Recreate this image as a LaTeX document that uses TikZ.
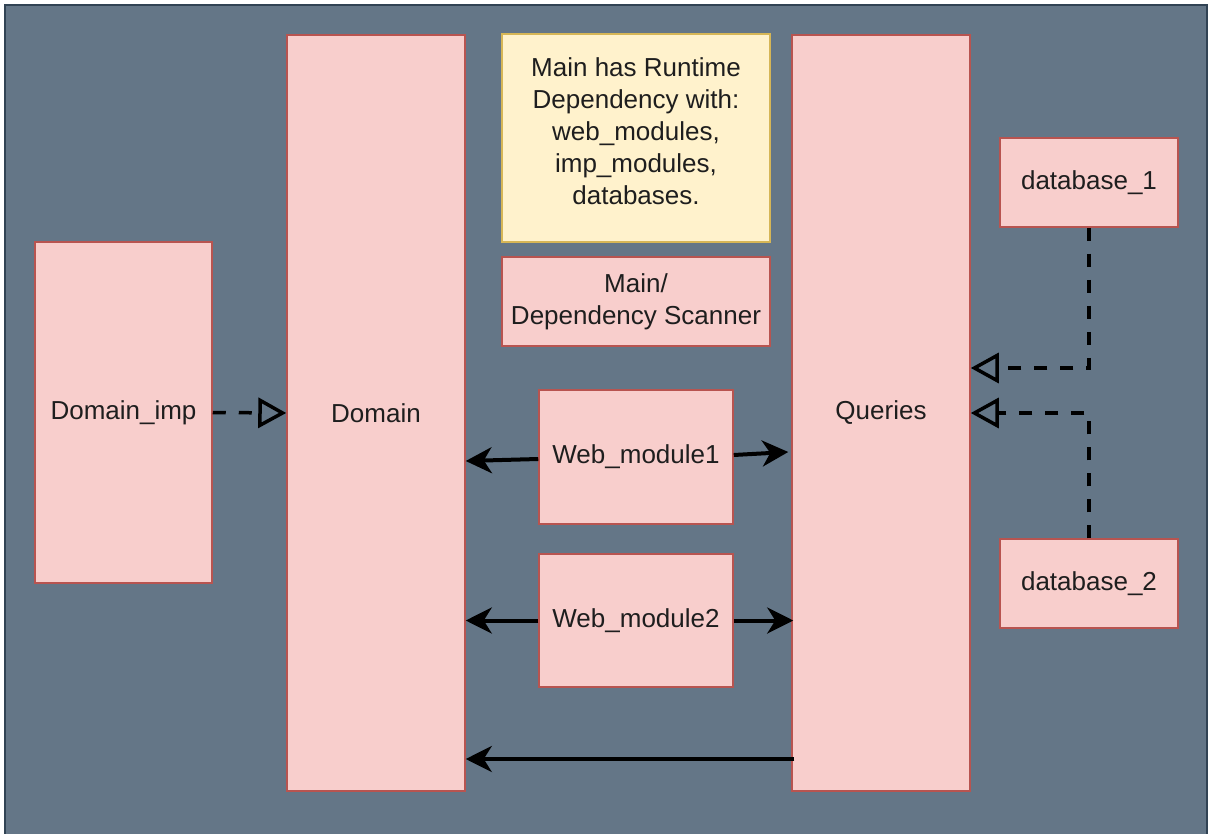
\documentclass[tikz,border=0pt]{standalone}
\usepackage{fontspec}
\setmainfont{Liberation Sans}
\usetikzlibrary{arrows.meta}
\definecolor{bgfill}{HTML}{647687}
\definecolor{bgline}{HTML}{314354}
\definecolor{boxfill}{HTML}{F8CECC}
\definecolor{boxline}{HTML}{B85450}
\definecolor{notefill}{HTML}{FFF2CC}
\definecolor{noteline}{HTML}{D6B656}
\definecolor{ink}{HTML}{1E1E1E}
\tikzset{
  block/.style={draw=boxline, fill=boxfill, line width=1.5pt, text=ink,
    align=center, inner sep=0pt, font=\fontsize{26}{32}\selectfont},
  note/.style={block, draw=noteline, fill=notefill},
  uses/.style={line width=4pt, draw=black,
    -{Stealth[length=26pt, width=26pt, inset=8pt]}},
  impl/.style={line width=3.5pt, draw=black, dash pattern=on 13pt off 13pt,
    -{Triangle[open, length=28pt, width=30pt]}},
}
\begin{document}
\begin{tikzpicture}[x=1pt, y=-1pt]
  \useasboundingbox (0,0) rectangle (1209,834);
  \clip (0,0) rectangle (1209,834);
  % backdrop panel
  \fill[bgfill, draw=bgline, line width=2pt] (5,5) rectangle (1207,860);

  % boxes
  \node[block, minimum width=177pt, minimum height=341pt] (di) at (123.5,412.5) {Domain\_imp};
  \node[block, minimum width=178pt, minimum height=756pt] (dom) at (376,413) {Domain};
  \node[block, minimum width=178pt, minimum height=756pt] (q) at (881,413) {Queries};
  \node[note, minimum width=268pt, minimum height=208pt, text depth=14pt] (note) at (636,138)
    {Main has Runtime\\Dependency with:\\web\_modules,\\imp\_modules,\\databases.};
  \node[block, minimum width=268pt, minimum height=89pt] (main) at (636,301.5)
    {Main/\\Dependency Scanner};
  \node[block, minimum width=194pt, minimum height=134pt] (wm1) at (636,457) {Web\_module1};
  \node[block, minimum width=194pt, minimum height=133pt] (wm2) at (636,620.5) {Web\_module2};
  \node[block, minimum width=178pt, minimum height=89pt] (db1) at (1089,182.5) {database\_1};
  \node[block, minimum width=178pt, minimum height=89pt] (db2) at (1089,583.5) {database\_2};

  % implementation / realisation links
  \draw[impl] (di.east) -- (dom.west);
  \draw[impl] (db1.south) |- ([yshift=45pt]q.east);
  \draw[impl] (db2.north) |- (q.east);

  % usage links
  \draw[uses] ([yshift=-2pt]wm1.west) -- ([yshift=-48pt]dom.east);
  \draw[uses] ([yshift=2pt]wm1.east) -- ([yshift=-39pt,xshift=-3pt]q.west);
  \draw[uses] (wm2.west) -- (dom.east |- wm2.west);
  \draw[uses] (wm2.east) -- ([xshift=2pt]q.west |- wm2.east);
  \coordinate (qlow) at ([yshift=-346pt,xshift=3pt]q.west);
  \draw[uses] (qlow) -- (dom.east |- qlow);
\end{tikzpicture}
\end{document}
